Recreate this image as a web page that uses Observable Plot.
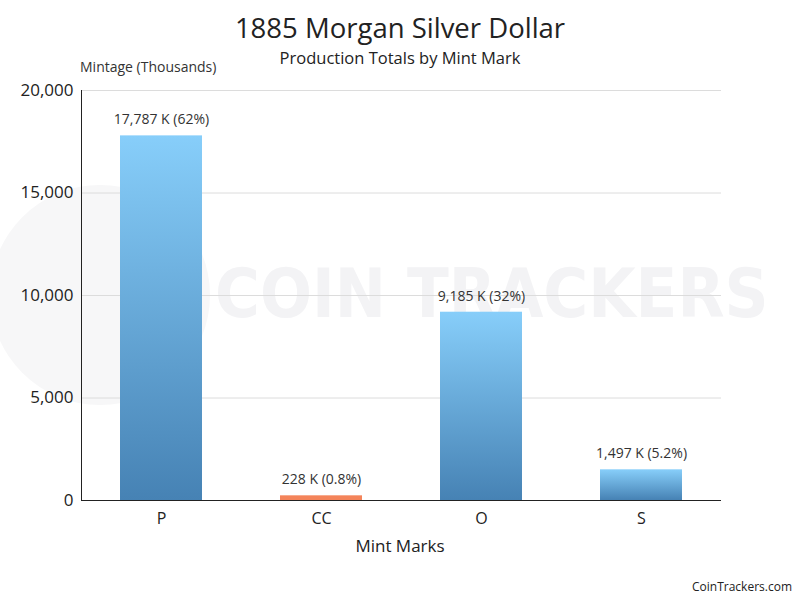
<!DOCTYPE html>
<html>
<head>
<meta charset="utf-8">
<script src="https://cdn.jsdelivr.net/npm/d3@7"></script>
<script src="https://cdn.jsdelivr.net/npm/@observablehq/plot@0.6"></script>
<style>
  html, body { margin: 0; padding: 0; background: #fff; }
  #wrap { position: relative; width: 800px; height: 600px; font-family: "Open Sans", sans-serif; color: #222; overflow: hidden; }
  #wrap svg { position: absolute; left: 0; top: 0; background: transparent; }
  .abs { position: absolute; white-space: nowrap; }
  #title { top: 9px; left: 0; width: 800px; text-align: center; font-size: 27.5px; color: #222; }
  #subtitle { top: 46px; left: 0; width: 800px; text-align: center; font-size: 16.5px; color: #222; }
  #ylabel { top: 57px; left: 80px; font-size: 14px; color: #333; }
  #xlabel { top: 534px; left: 0; width: 800px; text-align: center; font-size: 17px; color: #222; }
  #credit { top: 578px; right: 8px; font-size: 12px; color: #222; }
  #wm { top: 254px; left: 215px; font-size: 68px; font-weight: bold; color: #f3f3f5; letter-spacing: 0px; font-family: "DejaVu Sans Condensed", "DejaVu Sans", sans-serif; }
  #wmc { top: 185px; left: -10px; width: 220px; height: 220px; border-radius: 50%; background: #f7f7f8; }
</style>
</head>
<body>
<div id="wrap">
  <div class="abs" id="wmc"></div>
  <div class="abs" id="wm">COIN TRACKERS</div>
  <div id="chart"></div>
  <div class="abs" id="title">1885 Morgan Silver Dollar</div>
  <div class="abs" id="subtitle">Production Totals by Mint Mark</div>
  <div class="abs" id="ylabel">Mintage (Thousands)</div>
  <div class="abs" id="xlabel">Mint Marks</div>
  <div class="abs" id="credit">CoinTrackers.com</div>
</div>
<script>
const mints = ["P", "CC", "O", "S"];
const mintage = [17787, 228, 9185, 1497];
const labels = ["17,787 K (62%)", "228 K (0.8%)", "9,185 K (32%)", "1,497 K (5.2%)"];
const fills = ["url(#blueGrad)", "#f4845a", "url(#blueGrad)", "url(#blueGrad)"];
const yTicks = [0, 5000, 10000, 15000, 20000];

const data = mints.map((m, i) => ({ mint: m, value: mintage[i], label: labels[i], fill: fills[i] }));

const fmt = d3.format(",");

const svg = Plot.plot({
  width: 800,
  height: 600,
  marginTop: 90,
  marginBottom: 100,
  marginLeft: 81,
  marginRight: 79,
  style: { fontFamily: "Open Sans, sans-serif", background: "transparent", color: "#222" },
  x: { domain: mints, paddingInner: 0.49, paddingOuter: 0.245, label: null },
  y: { domain: [0, 20000], label: null },
  marks: [
    Plot.gridY(yTicks, { stroke: "#dcdcdc", strokeOpacity: 1 }),
    Plot.barY(data, { x: "mint", y: "value", fill: d => d.fill }),
    Plot.text(data, { x: "mint", y: "value", text: "label", dy: -16, fontSize: 14, fill: "#333" }),
    Plot.ruleY([0], { stroke: "#222", strokeWidth: 1 }),
    Plot.frame({ anchor: "left", stroke: "#222" }),
    Plot.axisY({ ticks: yTicks, tickFormat: fmt, tickSize: 0, tickPadding: 8, fontSize: 17, fill: "#222" }),
    Plot.axisX({ tickSize: 0, tickPadding: 12, fontSize: 16, fill: "#222" })
  ]
});

const defs = d3.select(svg).insert("defs", ":first-child");
const g = defs.append("linearGradient").attr("id", "blueGrad")
  .attr("x1", 0).attr("y1", 0).attr("x2", 0).attr("y2", 1);
g.append("stop").attr("offset", "0%").attr("stop-color", "#87cefa");
g.append("stop").attr("offset", "100%").attr("stop-color", "#4682b4");

document.getElementById("chart").appendChild(svg);
</script>
</body>
</html>
